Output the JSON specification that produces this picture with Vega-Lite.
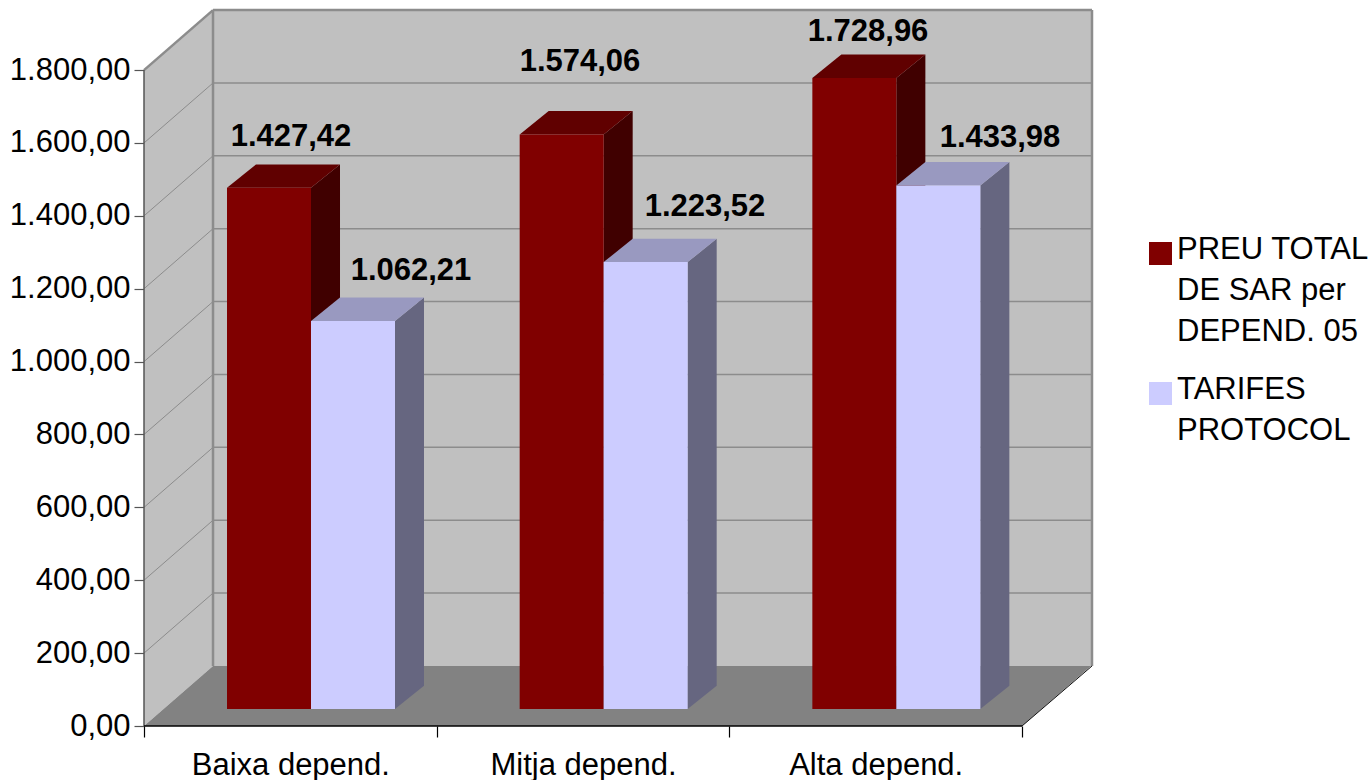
{"$schema":"https://vega.github.io/schema/vega-lite/v6.json","width":948,"height":716,"autosize":{"type":"none"},"padding":{"left":144,"top":10,"right":279,"bottom":54},"background":"white","params":[{"name":"dx","value":0.2358},{"name":"dy","value":164.65},{"name":"xmax","value":3.2391},{"name":"bw","value":0.287},{"name":"bdx","value":0.0991},{"name":"bdy","value":64}],"config":{"view":{"stroke":null},"font":"Liberation Sans","style":{"guide-label":{"lineHeight":41}},"locale":{"number":{"decimal":",","thousands":".","grouping":[3],"currency":["","€"]}}},"datasets":{"bars":[{"category":"Baixa depend.","series":"PREU TOTAL DE SAR per DEPEND. 05","value":1427.42},{"category":"Baixa depend.","series":"TARIFES PROTOCOL","value":1062.21},{"category":"Mitja depend.","series":"PREU TOTAL DE SAR per DEPEND. 05","value":1574.06},{"category":"Mitja depend.","series":"TARIFES PROTOCOL","value":1223.52},{"category":"Alta depend.","series":"PREU TOTAL DE SAR per DEPEND. 05","value":1728.96},{"category":"Alta depend.","series":"TARIFES PROTOCOL","value":1433.98}],"grid":[{"v":200},{"v":400},{"v":600},{"v":800},{"v":1000},{"v":1200},{"v":1400},{"v":1600},{"v":1800}],"ends":[{"t":0},{"t":1}],"one":[{"o":1}]},"data":{"name":"bars"},"transform":[{"calculate":"indexof(['Baixa depend.','Mitja depend.','Alta depend.'],datum.category)","as":"idx"},{"calculate":"datum.series==='TARIFES PROTOCOL'?1:0","as":"s"},{"calculate":"datum.idx+0.2836+datum.s*bw","as":"xL"},{"calculate":"datum.xL+bw","as":"xR"},{"calculate":"datum.value+49.5","as":"yT"},{"calculate":"46.6","as":"yB"}],"layer":[{"data":{"name":"one"},"transform":[{"calculate":"dx","as":"a"},{"calculate":"xmax","as":"b"},{"calculate":"dy","as":"c"},{"calculate":"1800+dy","as":"d"}],"mark":{"type":"rect","fill":"#c0c0c0"},"encoding":{"x":{"field":"a","type":"quantitative","scale":{"domain":[0,3.2391],"nice":false,"zero":false},"axis":{"title":null,"values":[0,0.5,1,1.5,2,2.5,3],"domain":false,"grid":false,"tickSize":11,"tickColor":"#000000","tickWidth":1.2,"tickOpacity":{"condition":{"test":"datum.value%1!==0","value":0},"value":1},"labelExpr":"datum.value===0.5?'Baixa depend.':datum.value===1.5?'Mitja depend.':datum.value===2.5?'Alta depend.':''","labelFontSize":31,"labelFont":"Liberation Sans","labelColor":"#000000","labelPadding":13,"labelLimit":400,"labelOverlap":false,"labelFlush":false,"labelBound":false,"labelAngle":0}},"x2":{"field":"b"},"y":{"field":"c","type":"quantitative","scale":{"domain":[0,1964.9],"nice":false,"zero":false},"axis":{"title":null,"values":[0,200,400,600,800,1000,1200,1400,1600,1800],"format":",.2f","domain":false,"grid":false,"tickSize":10,"tickColor":"#555555","tickWidth":1.2,"labelFontSize":31,"labelFont":"Liberation Sans","labelColor":"#000000","labelPadding":4,"labelOverlap":false,"labelFlush":false,"labelBound":false}},"y2":{"field":"d"}}},{"data":{"name":"ends"},"transform":[{"calculate":"datum.t*dx","as":"x"},{"calculate":"datum.t*dy","as":"y"},{"calculate":"1800+datum.t*dy","as":"y2"}],"mark":{"type":"area","fill":"#c0c0c0","orient":"vertical"},"encoding":{"x":{"field":"x","type":"quantitative"},"y":{"field":"y","type":"quantitative","stack":null},"y2":{"field":"y2"}}},{"data":{"name":"ends"},"transform":[{"calculate":"datum.t*dx","as":"x"},{"calculate":"3+datum.t*dx","as":"x2"},{"calculate":"datum.t*dy","as":"y"}],"mark":{"type":"area","fill":"#828282","orient":"horizontal"},"encoding":{"x":{"field":"x","type":"quantitative","stack":null},"x2":{"field":"x2"},"y":{"field":"y","type":"quantitative"}}},{"data":{"name":"grid"},"transform":[{"calculate":"dx","as":"x"},{"calculate":"xmax","as":"x2"},{"calculate":"datum.v+dy","as":"y"}],"mark":{"type":"rule","stroke":"#8c8c8c"},"encoding":{"x":{"field":"x","type":"quantitative"},"x2":{"field":"x2"},"y":{"field":"y","type":"quantitative"},"strokeWidth":{"condition":{"test":"datum.v===1800","value":2.5},"value":1.5}}},{"data":{"name":"grid"},"transform":[{"calculate":"0","as":"x"},{"calculate":"dx","as":"x2"},{"calculate":"datum.v","as":"y"},{"calculate":"datum.v+dy","as":"y2"}],"mark":{"type":"rule","stroke":"#8c8c8c"},"encoding":{"x":{"field":"x","type":"quantitative"},"x2":{"field":"x2"},"y":{"field":"y","type":"quantitative"},"y2":{"field":"y2"},"strokeWidth":{"condition":{"test":"datum.v===1800","value":2.5},"value":1}}},{"data":{"name":"ends"},"transform":[{"calculate":"dx+datum.t*(xmax-dx)","as":"x"},{"calculate":"dy","as":"y"},{"calculate":"1800+dy","as":"y2"}],"mark":{"type":"rule","stroke":"#8c8c8c","strokeWidth":2.5},"encoding":{"x":{"field":"x","type":"quantitative"},"y":{"field":"y","type":"quantitative"},"y2":{"field":"y2"}}},{"data":{"name":"one"},"transform":[{"calculate":"3","as":"x"},{"calculate":"xmax","as":"x2"},{"calculate":"0","as":"y"},{"calculate":"dy","as":"y2"}],"mark":{"type":"rule","stroke":"#111111","strokeWidth":1},"encoding":{"x":{"field":"x","type":"quantitative"},"x2":{"field":"x2"},"y":{"field":"y","type":"quantitative"},"y2":{"field":"y2"}}},{"transform":[{"calculate":"0","as":"t0"},{"calculate":"1","as":"t1"},{"fold":["t0","t1"],"as":["tk","t"]},{"calculate":"datum.xR+datum.t*bdx","as":"x"},{"calculate":"datum.yT+datum.t*bdy","as":"y"},{"calculate":"datum.yB+datum.t*bdy","as":"y2"}],"mark":{"type":"area","orient":"vertical"},"encoding":{"x":{"field":"x","type":"quantitative"},"y":{"field":"y","type":"quantitative","stack":null},"y2":{"field":"y2"},"detail":[{"field":"category"},{"field":"series"}],"fill":{"condition":{"test":"datum.s===1","value":"#666680"},"value":"#400000"}}},{"transform":[{"calculate":"0","as":"t0"},{"calculate":"1","as":"t1"},{"fold":["t0","t1"],"as":["tk","t"]},{"calculate":"datum.xL+datum.t*bdx","as":"x"},{"calculate":"datum.xR+datum.t*bdx","as":"x2"},{"calculate":"datum.yT+datum.t*bdy","as":"y"}],"mark":{"type":"area","orient":"horizontal"},"encoding":{"x":{"field":"x","type":"quantitative","stack":null},"x2":{"field":"x2"},"y":{"field":"y","type":"quantitative"},"detail":[{"field":"category"},{"field":"series"}],"fill":{"condition":{"test":"datum.s===1","value":"#9999c0"},"value":"#600000"}}},{"mark":{"type":"rect"},"encoding":{"x":{"field":"xL","type":"quantitative"},"x2":{"field":"xR"},"y":{"field":"yB","type":"quantitative"},"y2":{"field":"yT"},"fill":{"field":"series","type":"nominal","scale":{"domain":["PREU TOTAL DE SAR per DEPEND. 05","TARIFES PROTOCOL"],"range":["#800000","#ccccff"]},"legend":{"title":null,"orient":"none","legendX":1001,"legendY":228,"symbolType":"square","symbolSize":529,"symbolStrokeWidth":0,"labelFontSize":31,"labelFont":"Liberation Sans","labelColor":"#000000","labelLimit":0,"labelOffset":1,"rowPadding":26,"encoding":{"labels":{"dy":{"value":-4}}},"labelExpr":"datum.label==='TARIFES PROTOCOL'?['TARIFES','PROTOCOL']:['PREU TOTAL','DE SAR per','DEPEND. 05']"}}}},{"data":{"name":"grid"},"transform":[{"filter":"datum.v===200"},{"calculate":"0","as":"x"},{"calculate":"0","as":"y"},{"calculate":"1800","as":"y2"}],"mark":{"type":"rule","stroke":"#555555","strokeWidth":1.5},"encoding":{"x":{"field":"x","type":"quantitative"},"y":{"field":"y","type":"quantitative"},"y2":{"field":"y2"}}},{"data":{"name":"one"},"transform":[{"calculate":"0","as":"x"},{"calculate":"3","as":"x2"},{"calculate":"0","as":"y"}],"mark":{"type":"rule","stroke":"#000000","strokeWidth":1.5},"encoding":{"x":{"field":"x","type":"quantitative"},"x2":{"field":"x2"},"y":{"field":"y","type":"quantitative"}}},{"transform":[{"calculate":"[[0.5023,0.9123],[1.4897,1.9168],[2.4738,2.9248]][datum.idx][datum.s]","as":"lx"},{"calculate":"[[1621.8,1251.4],[1827.6,1429.7],[1910,1616.4]][datum.idx][datum.s]","as":"ly"}],"mark":{"type":"text","font":"Liberation Sans","fontWeight":"bold","fontSize":31,"color":"#000000","align":"center","baseline":"middle","dy":1.5},"encoding":{"x":{"field":"lx","type":"quantitative"},"y":{"field":"ly","type":"quantitative"},"text":{"field":"value","type":"quantitative","format":",.2f"}}}]}
